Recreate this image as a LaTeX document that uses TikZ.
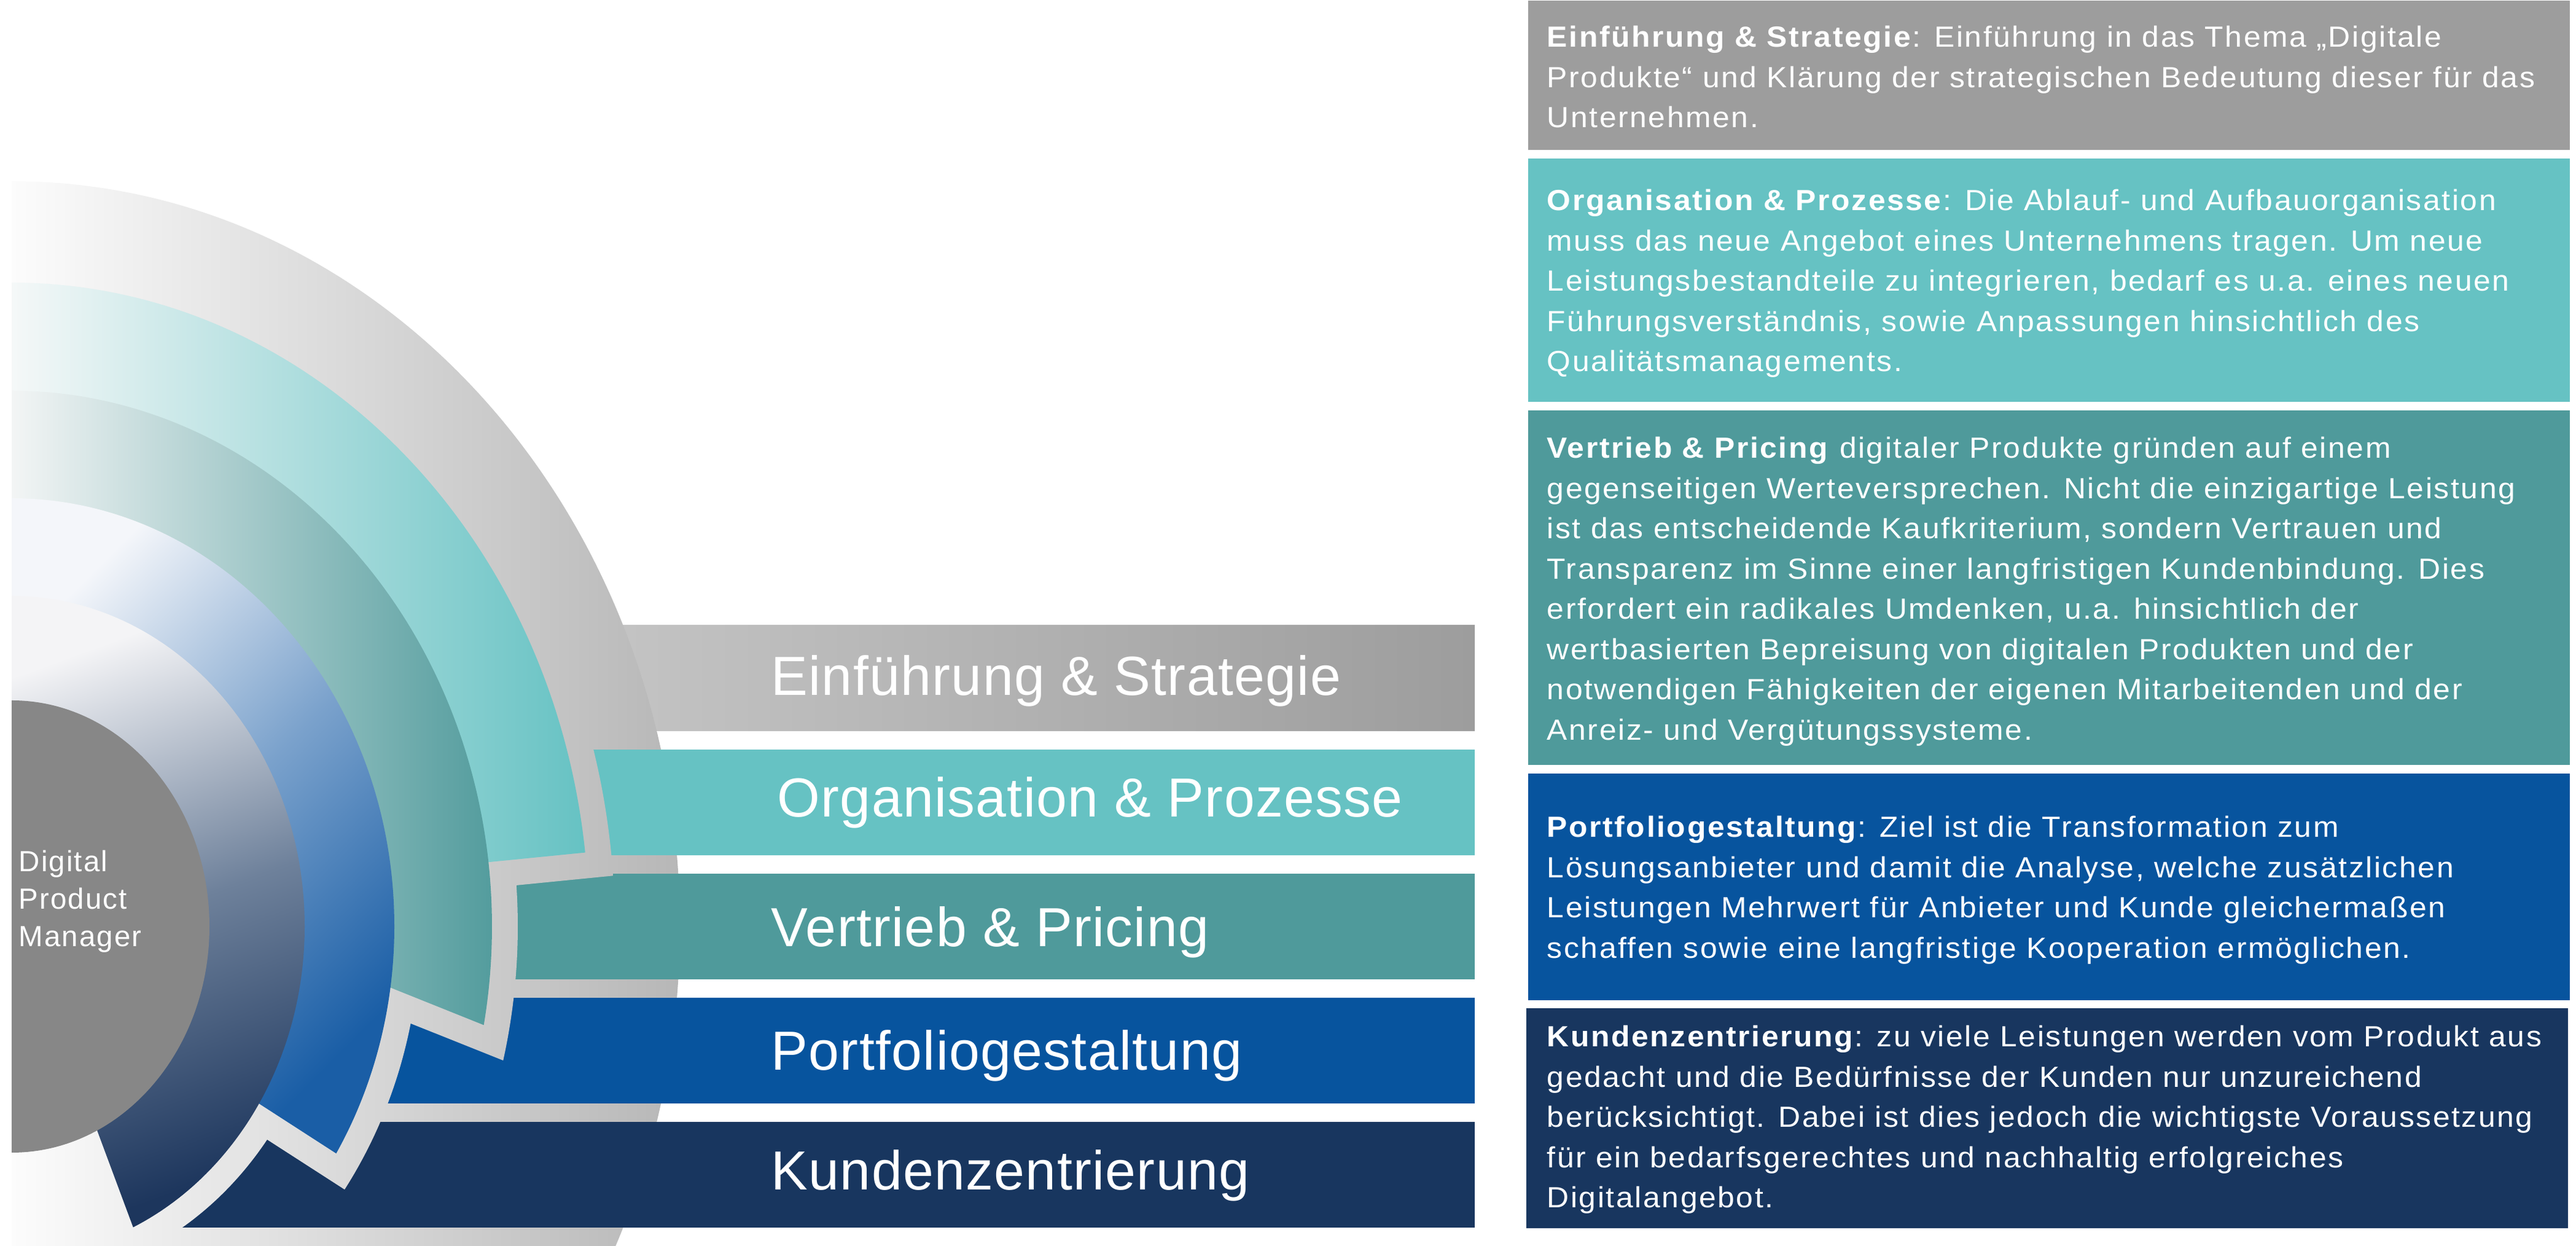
\documentclass[tikz,border=0pt]{standalone}
\usepackage{fontspec}
\setmainfont{Liberation Sans}
\newfontfamily\boxfamily[FakeStretch=1.05, LetterSpace=5.5]{Liberation Sans}
\newfontfamily\labelfamily[LetterSpace=1.5]{Liberation Sans}
\newfontfamily\dpmfamily[LetterSpace=4.5]{Liberation Sans}
\usetikzlibrary{positioning,calc}

\definecolor{cGray}{HTML}{9D9D9D}
\definecolor{cTeal}{HTML}{66C2C3}
\definecolor{cTealDark}{HTML}{4F9A9B}
\definecolor{cBlue}{HTML}{07549E}
\definecolor{cNavy}{HTML}{18365F}
\definecolor{cDisc}{HTML}{878787}
\definecolor{BgLeft}{HTML}{FCFCFC}
\definecolor{BgRight}{HTML}{B7B7B7}
\definecolor{BarLeft}{HTML}{C4C4C4}
\definecolor{RingOneLeft}{HTML}{F5F8F8}
\definecolor{RingTwoLeft}{HTML}{F3F5F5}
\definecolor{RingThreeTop}{HTML}{F4F6FA}
\definecolor{RingThreeMid}{HTML}{7BA2CC}
\definecolor{RingThreeEnd}{HTML}{1A5EA6}
\definecolor{RingFourTop}{HTML}{F4F4F6}
\definecolor{RingFourMid}{HTML}{6E819B}
\definecolor{RingFourEnd}{HTML}{1D365D}

\tikzset{
  barlabel/.style={text=white, inner sep=0pt, anchor=base west, font=\labelfamily\fontsize{25.5}{31}\selectfont},
  infobox/.style={anchor=north west, inner sep=0pt, minimum width=169.6mm},
  infotext/.style={text=white, inner sep=0pt, anchor=north west, align=left, font=\boxfamily\fontsize{13.5}{18.65}\selectfont},
  dpmtext/.style={text=white, inner sep=0pt, anchor=north west, align=left, font=\dpmfamily\fontsize{13.5}{17.4}\selectfont},
  haloshade/.style={left color=BgLeft, right color=BgRight},
}

\begin{document}
\begin{tikzpicture}[x=1mm, y=1mm]
  \useasboundingbox (0,0) rectangle (419.4,202.8);
  \clip (0,0) rectangle (419.4,202.8);

  % first bar sits behind the halo
  \shade[left color=BarLeft, right color=cGray] (98,83.8) rectangle (240.1,101.0);

  % grey halo
  \shade[haloshade] (1.9,173.3) arc[start angle=90, end angle=-90, x radius=108.8, y radius=121.3] -- cycle;

  % bars
  \fill[cTeal] (90,63.6) rectangle (240.1,80.8);
  \fill[cTealDark] (78,43.4) rectangle (240.1,60.6);
  \fill[cBlue] (60,23.2) rectangle (240.1,40.4);
  \fill[cNavy] (25,3.0) rectangle (240.1,20.2);

  % gaps round the rings
  \begin{scope}
    \clip[shift={(1.9,52)}]
      (0,0) -- (90:98.2 and 109.0) arc[start angle=90, end angle=4.35, x radius=98.2, y radius=109.0] -- (78.05,6.30) -- cycle
      (0,0) -- (90:82.4 and 91.4) arc[start angle=90, end angle=-13.8, x radius=82.4, y radius=91.4] -- (60.10,-13.84) -- cycle
      (0,0) -- (90:66.5 and 73.9) arc[start angle=90, end angle=-35.4, x radius=66.5, y radius=73.9] -- (37.99,-32.36) -- cycle
      (0,0) -- (90:51.9 and 58.0) arc[start angle=90, end angle=-70.4, x radius=51.9, y radius=58.0] -- (9.97,-34.66) -- cycle;
    \shade[haloshade] (1.9,173.3) arc[start angle=90, end angle=-90, x radius=108.8, y radius=121.3] -- cycle;
  \end{scope}

  % rings
  \begin{scope}[shift={(1.9,52)}]
    \shade[left color=RingOneLeft, right color=cTeal]
      (0,0) -- (90:94.0 and 104.8) arc[start angle=90, end angle=6.6, x radius=94.0, y radius=104.8] -- (6.9:78.2 and 87.2) -- cycle;
    \shade[left color=RingTwoLeft, right color=cTealDark]
      (0,0) -- (90:78.2 and 87.2) arc[start angle=90, end angle=-10.6, x radius=78.2, y radius=87.2] -- (-8.2:62.3 and 69.7) -- cycle;
    \shade[top color=RingThreeTop, bottom color=RingThreeEnd, middle color=RingThreeMid, shading angle=45]
      (0,0) -- (90:62.3 and 69.7) arc[start angle=90, end angle=-32.0, x radius=62.3, y radius=69.7] -- (-32.4:47.7 and 53.8) -- cycle;
    \shade[top color=RingFourTop, bottom color=RingFourEnd, middle color=RingFourMid, shading angle=20]
      (0,0) -- (90:47.7 and 53.8) arc[start angle=90, end angle=-65.5, x radius=47.7, y radius=53.8] -- (-64.4:32.2 and 36.8) -- cycle;
    \fill[cDisc] (0,36.8) arc[start angle=90, end angle=-90, x radius=32.2, y radius=36.8] -- cycle;
  \end{scope}

  \node[dpmtext] (dpm) at (3.0,65.29) {\strut Digital\\Product\\Manager};

  % bar labels
  \node[barlabel] (lblA) at (125.5,89.6) {Einführung \& Strategie};
  \node[barlabel] (lblB) at (126.5,69.8) {Organisation \& Prozesse};
  \node[barlabel] (lblC) at (125.5,48.7) {Vertrieb \& Pricing};
  \node[barlabel] (lblD) at (125.5,28.6) {Portfoliogestaltung};
  \node[barlabel] (lblE) at (125.5,9.1) {Kundenzentrierung};

  % info boxes
  \node[infobox, fill=cGray, minimum height=24.3mm] (boxA) at (248.7,202.8) {};
  \node[infobox, fill=cTeal, minimum height=39.6mm] (boxB) at (248.7,177.1) {};
  \node[infobox, fill=cTealDark, minimum height=57.7mm] (boxC) at (248.7,136.1) {};
  \node[infobox, fill=cBlue, minimum height=36.9mm] (boxD) at (248.7,77.0) {};
  \node[infobox, fill=cNavy, minimum height=35.8mm] (boxE) at (248.4,38.8) {};

  \node[infotext] (txtA) at (251.8,199.79) {\strut\textbf{Einführung \& Strategie}: Einführung in das Thema „Digitale\\
    Produkte“ und Klärung der strategischen Bedeutung dieser für das\\
    Unternehmen.};
  \node[infotext] (txtB) at (251.8,173.19) {\strut\textbf{Organisation \& Prozesse}: Die Ablauf- und Aufbauorganisation\\
    muss das neue Angebot eines Unternehmens tragen. Um neue\\
    Leistungsbestandteile zu integrieren, bedarf es u.a. eines neuen\\
    Führungsverständnis, sowie Anpassungen hinsichtlich des\\
    Qualitätsmanagements.};
  \node[infotext] (txtC) at (251.8,132.89) {\strut\textbf{Vertrieb \& Pricing} digitaler Produkte gründen auf einem\\
    gegenseitigen Werteversprechen. Nicht die einzigartige Leistung\\
    ist das entscheidende Kaufkriterium, sondern Vertrauen und\\
    Transparenz im Sinne einer langfristigen Kundenbindung. Dies\\
    erfordert ein radikales Umdenken, u.a. hinsichtlich der\\
    wertbasierten Bepreisung von digitalen Produkten und der\\
    notwendigen Fähigkeiten der eigenen Mitarbeitenden und der\\
    Anreiz- und Vergütungssysteme.};
  \node[infotext] (txtD) at (251.8,71.19) {\strut\textbf{Portfoliogestaltung}: Ziel ist die Transformation zum\\
    Lösungsanbieter und damit die Analyse, welche zusätzlichen\\
    Leistungen Mehrwert für Anbieter und Kunde gleichermaßen\\
    schaffen sowie eine langfristige Kooperation ermöglichen.};
  \node[infotext] (txtE) at (251.8,37.09) {\strut\textbf{Kundenzentrierung}: zu viele Leistungen werden vom Produkt aus\\
    gedacht und die Bedürfnisse der Kunden nur unzureichend\\
    berücksichtigt. Dabei ist dies jedoch die wichtigste Voraussetzung\\
    für ein bedarfsgerechtes und nachhaltig erfolgreiches\\
    Digitalangebot.};
\end{tikzpicture}
\end{document}
